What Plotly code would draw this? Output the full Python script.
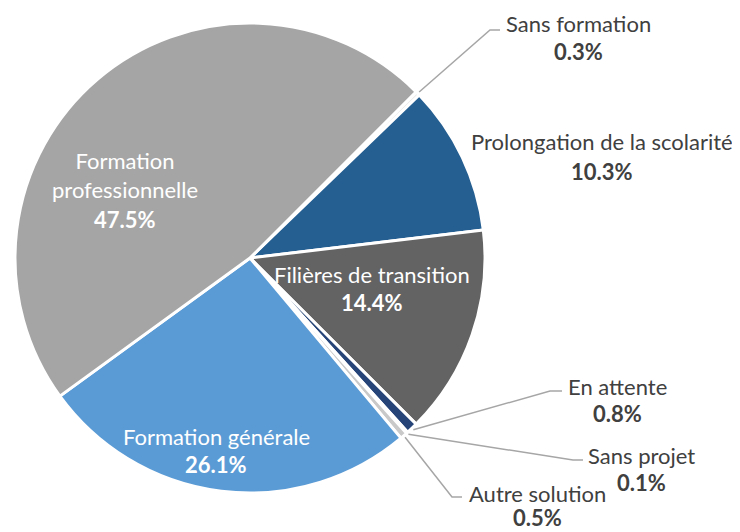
import math
import plotly.graph_objects as go

# ─── 数据 ─────────────────────────────────────────────────────────────────────
LABELS = ["Sans formation", "Prolongation de la scolarité", "Filières de transition",
          "En attente", "Sans projet", "Autre solution",
          "Formation générale", "Formation professionnelle"]
VALUES = [0.3, 10.3, 14.4, 0.8, 0.1, 0.5, 26.1, 47.5]
COLORS = ["#EDEDED", "#255E91", "#636363", "#264478", "#BDD7EE", "#C9C9C9",
          "#5B9BD5", "#A5A5A5"]

# ─── 版面 ─────────────────────────────────────────────────────────────────────
W, H = 740, 532
PAGE_OFF = 8                        # 页面 body 默认边距
CX, CY, R = 250, 258, 235           # 饼图中心 / 半径（窗口像素）
ROTATION = 45
FONT = "Lato"
FSIZE = 22
TXT_DARK = "#404040"
LINE_GRAY = "#A6A6A6"

# 标签位置（窗口像素）: 名称中心, 百分比中心, 是否在饼内
LABEL_POS = {
    "Sans formation":               ((578, 23), (578, 52), False),
    "Prolongation de la scolarité": ((602, 142), (602, 171), False),
    "Filières de transition":       ((372, 274), (372, 302), True),
    "En attente":                   ((617, 386), (617, 413), False),
    "Sans projet":                  ((641, 455), (641, 482), False),
    "Autre solution":               ((537, 493), (537, 517), False),
    "Formation générale":           ((216, 436), (216, 464), True),
    "Formation professionnelle":    ((125, 175), (125, 219), True),
}
# 引导线拐点（窗口像素）
LEADER_ELBOW = {
    "Sans formation": ((490, 30), (500, 30)),
    "En attente":     ((550, 391), (562, 391)),
    "Sans projet":    ((573, 460), (583, 460)),
    "Autre solution": ((452, 497), (462, 497)),
}


def px(x, y):
    """窗口像素 -> paper 坐标"""
    return (x - PAGE_OFF) / W, 1 - (y - PAGE_OFF) / H


x0, y1 = px(CX - R, CY - R)
x1, y0 = px(CX + R, CY + R)

fig = go.Figure(go.Pie(
    labels=LABELS, values=VALUES, sort=False, direction="clockwise",
    rotation=ROTATION, textinfo="none", hoverinfo="label+percent",
    marker=dict(colors=COLORS, line=dict(color="white", width=3)),
    domain=dict(x=[x0, x1], y=[y0, y1]),
))

annotations = []
shapes = []
total = sum(VALUES)
cum = 0.0
for lab, val in zip(LABELS, VALUES):
    mid = math.radians(ROTATION + (cum + val / 2) / total * 360)
    cum += val
    (nx, ny), (vx, vy), inside = LABEL_POS[lab]
    col = "white" if inside else TXT_DARK
    name = "Formation<br>professionnelle" if lab == "Formation professionnelle" else lab
    x, y = px(nx, ny)
    annotations.append(dict(x=x, y=y, xref="paper", yref="paper", text=name,
                            showarrow=False, xanchor="center", yanchor="middle",
                            borderpad=0,
                            font=dict(family=FONT, size=FSIZE, color=col)))
    x, y = px(vx, vy)
    annotations.append(dict(x=x, y=y, xref="paper", yref="paper",
                            text=f"<b>{val:.1f}%</b>",
                            showarrow=False, xanchor="center", yanchor="middle",
                            borderpad=0,
                            font=dict(family=FONT, size=FSIZE, color=col)))
    if lab in LEADER_ELBOW:
        sx = CX + (R + 2) * math.sin(mid)
        sy = CY - (R + 2) * math.cos(mid)
        (ex, ey), (tx, ty) = LEADER_ELBOW[lab]
        p = [px(sx, sy), px(ex, ey), px(tx, ty)]
        path = "M {} {} L {} {} L {} {}".format(*[c for pt in p for c in pt])
        shapes.append(dict(type="path", path=path, xref="paper", yref="paper",
                           line=dict(color=LINE_GRAY, width=1.5)))

fig.update_layout(
    width=W, height=H,
    margin=dict(l=0, r=0, t=0, b=0),
    showlegend=False,
    paper_bgcolor="white",
    annotations=annotations,
    shapes=shapes,
)
fig.write_html("out.html")
